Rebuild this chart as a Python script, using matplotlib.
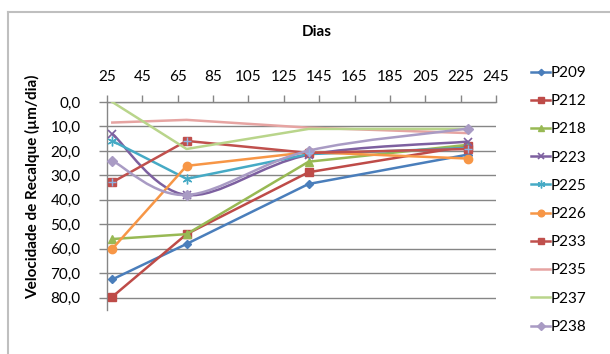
import numpy as np
import matplotlib
matplotlib.use("Agg")
import matplotlib.pyplot as plt
from matplotlib.path import Path
from matplotlib.patches import PathPatch
from matplotlib.lines import Line2D

plt.rcParams['font.family'] = ['Lato', 'DejaVu Sans']

# dias de leitura e velocidades de recalque por pino
dias = [28, 70, 139, 229]
series = {
    "P209": [72.5, 58.0, 33.5, 21.5],
    "P212": [79.6, 54.0, 28.7, 18.0],
    "P218": [56.0, 54.0, 24.4, 17.5],
    "P223": [13.0, 38.0, 21.6, 16.2],
    "P225": [15.9, 31.4, 21.3, 18.8],
    "P226": [60.0, 26.1, 20.5, 23.1],
    "P233": [32.8, 15.9, 20.8, 19.2],
    "P235": [8.4, 7.3, 10.5, 12.7],
    "P237": [0.0, 19.2, 11.0, 11.0],
    "P238": [24.0, 38.0, 19.9, 10.9],
}
x_ticks = list(range(25, 246, 20))
y_ticks = list(range(0, 81, 10))

styles = {
    "P209": dict(color="#4A7EBB", marker="D", ms=4),
    "P212": dict(color="#BE4B48", marker="s", ms=6),
    "P218": dict(color="#98B954", marker="^", ms=6),
    "P223": dict(color="#7D60A0", marker="x", ms=6, mew=1.2),
    "P225": dict(color="#46AAC5", marker=(6, 2, 0), ms=7, mew=1.0),
    "P226": dict(color="#F79646", marker="o", ms=6),
    "P233": dict(color="#C0504D", marker="s", ms=6),
    "P235": dict(color="#E6A4A2", marker=None, ms=0),
    "P237": dict(color="#B9D58B", marker=None, ms=0),
    "P238": dict(color="#A99BC4", marker="D", ms=5),
}
smooth = {"P223", "P238"}
fs = 11


def smooth_path(xs, ys):
    # bezier segments with catmull-rom style control points
    pts = np.column_stack([xs, ys]).astype(float)
    ext = np.vstack([pts[0], pts, pts[-1]])
    verts = [tuple(pts[0])]
    codes = [Path.MOVETO]
    for i in range(len(pts) - 1):
        p0, p1, p2, p3 = ext[i], ext[i + 1], ext[i + 2], ext[i + 3]
        c1 = p1 + (p2 - p0) / 6.0
        c2 = p2 - (p3 - p1) / 6.0
        verts += [tuple(c1), tuple(c2), tuple(p2)]
        codes += [Path.CURVE4] * 3
    return Path(verts, codes)


fig = plt.figure(figsize=(6.1, 3.54), dpi=100)
ax = fig.add_axes([107 / 610, 1 - 310 / 354, (496 - 107) / 610, (310 - 102) / 354])

lw = 1.8
handles = []
for name, vals in series.items():
    st = styles[name]
    if name in smooth:
        ax.add_patch(PathPatch(smooth_path(dias, vals), fill=False,
                               edgecolor=st["color"], lw=lw, zorder=3))
        ax.plot(dias, vals, ls="none", color=st["color"], marker=st["marker"],
                ms=st["ms"], mew=st.get("mew", 1.0), zorder=4)
    else:
        ax.plot(dias, vals, ls="-", lw=lw, color=st["color"], marker=st["marker"],
                ms=st["ms"], mew=st.get("mew", 1.0), zorder=3)
    if name == "P233":
        ax.plot(dias, vals, ls="none", marker="+", ms=6, mew=1.0,
                color="#8FB4E3", zorder=5)
    handles.append(Line2D([], [], color=st["color"], lw=lw, marker=st["marker"],
                          ms=st["ms"] * 0.8, mew=st.get("mew", 1.0), label=name))

ax.set_xlim(25, 245)
ax.set_ylim(85, 0)
ax.set_xticks(x_ticks)
ax.set_yticks(y_ticks)
ax.set_yticklabels([f"{v:.1f}".replace(".", ",") for v in y_ticks])
ax.xaxis.tick_top()
ax.tick_params(axis="x", direction="out", length=5, width=1, color="#868686",
               pad=8, labelsize=fs)
ax.tick_params(axis="y", direction="out", length=6, width=1, color="#868686",
               pad=13, labelsize=fs)
for s in ["right", "bottom"]:
    ax.spines[s].set_visible(False)
for s in ["top", "left"]:
    ax.spines[s].set_color("#868686")
    ax.spines[s].set_linewidth(1)
ax.yaxis.grid(True, color="#868686", lw=1)
ax.set_axisbelow(True)

fig.text(317 / 610, 1 - 32 / 354, "Dias", ha="center", va="center",
         fontsize=fs, fontweight="bold")
fig.text(33 / 610, 1 - 187 / 354, "Velocidade de Recalque (µm/dia)", ha="center",
         va="center", rotation=90, fontsize=fs, fontweight="bold")

fig.legend(handles=handles, loc="upper left", bbox_to_anchor=(531 / 610, 1 - 66 / 354),
           frameon=False, fontsize=fs, handlelength=1.25, handletextpad=0.05,
           labelspacing=0.93, borderpad=0, borderaxespad=0)

# moldura do grafico
fig.add_artist(Line2D([8 / 610, 1], [1 - 12 / 354] * 2, color="#BFBFBF", lw=1.5))
fig.add_artist(Line2D([8 / 610] * 2, [0, 1 - 12 / 354], color="#BFBFBF", lw=1.5))

fig.savefig("out.png", dpi=100)
